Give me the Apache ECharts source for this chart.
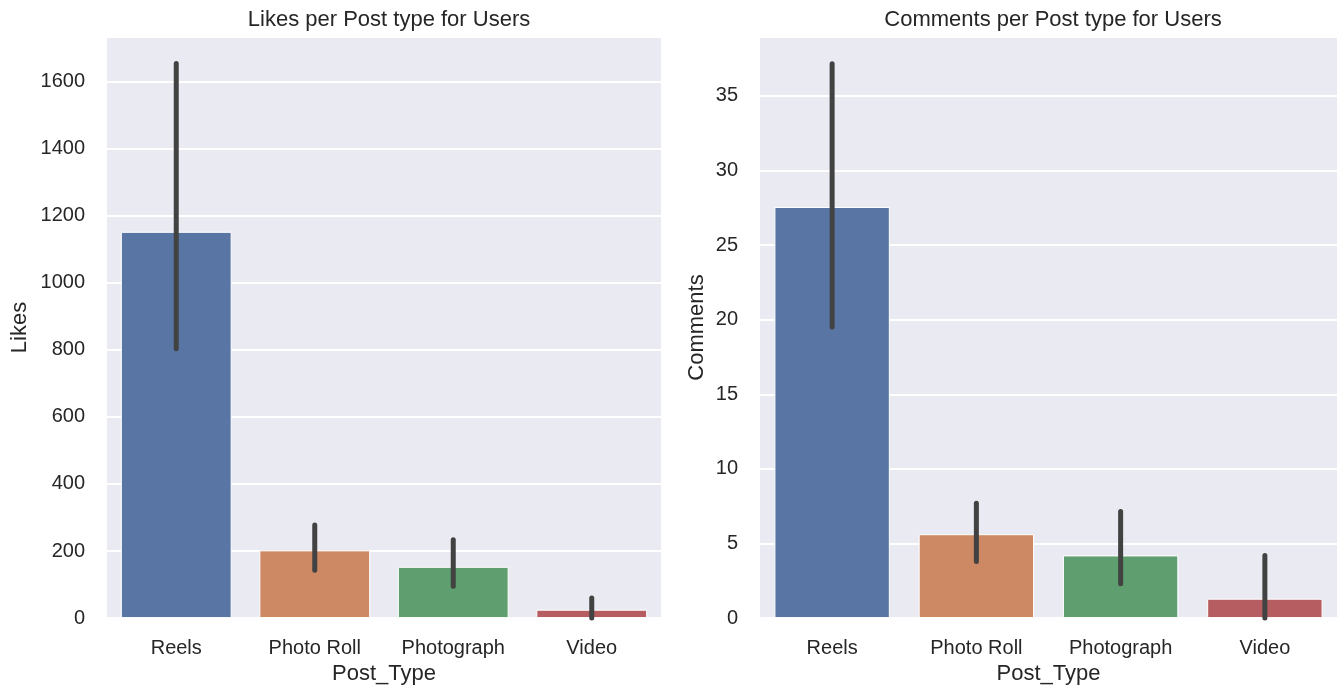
<!DOCTYPE html>
<html>
<head>
<meta charset="utf-8">
<script src="https://cdn.jsdelivr.net/npm/echarts@6/dist/echarts.min.js"></script>
<style>
  html, body { margin: 0; padding: 0; background: #ffffff; }
  #chart { width: 1340px; height: 690px; }
</style>
</head>
<body>
<div id="chart"></div>
<script>
// Post types shown on both panels
const postTypes = ['Reels', 'Photo Roll', 'Photograph', 'Video'];
const barColors = ['#5975a4', '#cc8963', '#5f9e6e', '#b55d60'];

// Mean likes per post type with confidence interval bounds
const likesMean = [1152, 202, 153, 25];
const likesLow  = [803, 143, 95, 0];
const likesHigh = [1654, 278, 234, 60];

// Mean comments per post type with confidence interval bounds
const commentsMean = [27.55, 5.62, 4.2, 1.3];
const commentsLow  = [19.5, 3.8, 2.3, 0];
const commentsHigh = [37.15, 7.7, 7.15, 4.2];

const FONT = '"Liberation Sans", Arial, sans-serif';
const TXT = '#262626';

function barData(values) {
  return values.map((v, i) => ({ value: v, itemStyle: { color: barColors[i] } }));
}

function errData(low, high) {
  return low.map((l, i) => [i, l, high[i]]);
}

function errRender(params, api) {
  const x = api.value(0);
  const p1 = api.coord([x, api.value(1)]);
  const p2 = api.coord([x, api.value(2)]);
  return {
    type: 'line',
    shape: { x1: p1[0], y1: p1[1], x2: p2[0], y2: p2[1] },
    style: { stroke: '#424242', lineWidth: 5, lineCap: 'round' }
  };
}

function xAxisCfg(gridIndex) {
  return {
    type: 'category',
    gridIndex,
    data: postTypes,
    name: 'Post_Type',
    nameLocation: 'middle',
    nameGap: 44,
    nameTextStyle: { fontFamily: FONT, fontSize: 22, color: TXT },
    axisLine: { show: false },
    axisTick: { show: false },
    axisLabel: { fontFamily: FONT, fontSize: 20, color: TXT, margin: 20 },
    splitLine: { show: false }
  };
}

function yAxisCfg(gridIndex, name, max, interval, gap) {
  return {
    type: 'value',
    gridIndex,
    min: 0,
    max,
    interval,
    name,
    nameLocation: 'middle',
    nameGap: gap,
    nameTextStyle: { fontFamily: FONT, fontSize: 22, color: TXT },
    axisLine: { show: false },
    axisTick: { show: false },
    axisLabel: {
      fontFamily: FONT, fontSize: 20, color: TXT, margin: 22, showMaxLabel: false,
      formatter: (v) => String(v)
    },
    splitLine: { show: true, lineStyle: { color: '#ffffff', width: 2 } }
  };
}

const chart = echarts.init(document.getElementById('chart'), null, { renderer: 'canvas' });

chart.setOption({
  backgroundColor: '#ffffff',
  animation: false,
  title: [
    { text: 'Likes per Post type for Users', left: 384, top: 4, textAlign: 'center',
      textStyle: { fontFamily: FONT, fontSize: 22, fontWeight: 'normal', color: TXT } },
    { text: 'Comments per Post type for Users', left: 1048, top: 4, textAlign: 'center',
      textStyle: { fontFamily: FONT, fontSize: 22, fontWeight: 'normal', color: TXT } }
  ],
  grid: [
    { left: 107, right: 679, top: 37, bottom: 69, show: true, backgroundColor: '#eaeaf2', borderWidth: 0 },
    { left: 760, right: 3, top: 37, bottom: 69, show: true, backgroundColor: '#eaeaf2', borderWidth: 0 }
  ],
  xAxis: [xAxisCfg(0), xAxisCfg(1)],
  yAxis: [
    yAxisCfg(0, 'Likes', 1733, 200, 76),
    yAxisCfg(1, 'Comments', 38.94, 5, 52)
  ],
  series: [
    {
      type: 'bar', xAxisIndex: 0, yAxisIndex: 0, barWidth: '80%',
      data: barData(likesMean),
      itemStyle: { borderColor: '#ffffff', borderWidth: 1 }
    },
    {
      type: 'custom', xAxisIndex: 0, yAxisIndex: 0,
      renderItem: errRender, data: errData(likesLow, likesHigh), z: 5
    },
    {
      type: 'bar', xAxisIndex: 1, yAxisIndex: 1, barWidth: '80%',
      data: barData(commentsMean),
      itemStyle: { borderColor: '#ffffff', borderWidth: 1 }
    },
    {
      type: 'custom', xAxisIndex: 1, yAxisIndex: 1,
      renderItem: errRender, data: errData(commentsLow, commentsHigh), z: 5
    }
  ]
});
</script>
</body>
</html>
